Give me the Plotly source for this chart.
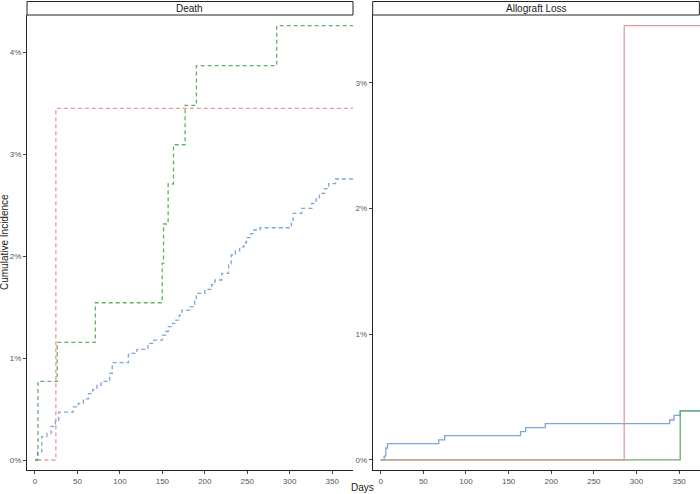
import plotly.graph_objects as go

# ---------------- data (days, cumulative incidence in %) ----------------
death_red_t = [3, 24.6, 375]
death_red_v = [0, 3.448, 3.448]

death_green_t = [0, 3.5, 26.2, 71.1, 149.8, 151.4, 156.8, 163.1, 176.8, 190.1, 284.7, 375]
death_green_v = [0, 0.77, 1.154, 1.542, 1.928, 2.314, 2.706, 3.091, 3.477, 3.866, 4.258, 4.258]

death_blue_t = [0, 3, 8, 14, 19, 24, 28, 45, 51, 57, 63, 68, 73, 78, 88, 91, 110, 120, 133,
                140, 150, 154, 157, 162, 166, 170, 173, 182, 188, 190, 200, 208, 212, 220,
                228, 231, 236, 241, 246, 249, 254, 258, 265, 302, 304, 314, 326, 331, 335,
                341, 346, 354, 375]
death_blue_v = [0, 0.08, 0.23, 0.26, 0.33, 0.39, 0.47, 0.52, 0.556, 0.60, 0.65, 0.69, 0.735,
                0.77, 0.85, 0.954, 1.046, 1.085, 1.144, 1.176, 1.225, 1.26, 1.307, 1.34, 1.372,
                1.42, 1.47, 1.503, 1.56, 1.634, 1.673, 1.72, 1.765, 1.83, 1.92, 2.01, 2.05,
                2.09, 2.13, 2.18, 2.22, 2.255, 2.277, 2.35, 2.418, 2.467, 2.516, 2.56, 2.614,
                2.66, 2.71, 2.755, 2.755]

graft_red_t = [0, 285.6, 375]
graft_red_v = [0, 3.455, 3.455]

graft_green_t = [0, 351.3, 375]
graft_green_v = [0, 0.39, 0.39]

graft_blue_t = [0, 4, 6, 8, 68, 75, 164, 170, 193, 339, 344, 351.3, 375]
graft_blue_v = [0, 0.03, 0.095, 0.13, 0.16, 0.193, 0.225, 0.257, 0.289, 0.318, 0.355, 0.39, 0.39]

x_ticks = [0, 50, 100, 150, 200, 250, 300, 350]
death_y_ticks = [0, 1, 2, 3, 4]
graft_y_ticks = [0, 1, 2, 3]
death_y_labels = ["0%", "1%", "2%", "3%", "4%"]
graft_y_labels = ["0%", "1%", "2%", "3%"]
panel_titles = ["Death", "Allograft Loss"]

RED = "rgba(228,150,150,0.95)"
GREEN = "rgba(95,170,95,0.95)"
BLUE = "rgba(120,160,220,0.95)"

W, H = 700, 494
fig = go.Figure()

def add(t, v, color, xa, ya, dash):
    fig.add_trace(go.Scatter(x=t, y=v, mode="lines", line_shape="hv",
                             line=dict(color=color, width=1.3, dash=dash),
                             xaxis=xa, yaxis=ya, showlegend=False, hoverinfo="skip"))

dash = "4px,3px"
add(death_blue_t, death_blue_v, BLUE, "x", "y", dash)
add(death_red_t, death_red_v, RED, "x", "y", dash)
add(death_green_t, death_green_v, GREEN, "x", "y", dash)

add(graft_blue_t, graft_blue_v, BLUE, "x2", "y2", "solid")
add(graft_green_t, graft_green_v, GREEN, "x2", "y2", "solid")
add(graft_red_t, graft_red_v, RED, "x2", "y2", "solid")

# panel geometry (pixels)
L1, R1 = 27, 353
L2, R2 = 372.7, 700
TOP, BOT = 15, 470

def px_x(p):
    return p / W

def px_y(p):
    return 1 - p / H

tickfont = dict(family="Liberation Sans, Arial, sans-serif", size=8, color="#555555")
common_x = dict(range=[-9.4, 374.5], tickvals=x_ticks, ticktext=[str(v) for v in x_ticks],
                showline=True, linecolor="#222", linewidth=1, ticks="outside", ticklen=3,
                tickcolor="#444", showgrid=False, zeroline=False, tickfont=tickfont,
                ticklabeloverflow="allow")
common_y = dict(showline=True, linecolor="#222", linewidth=1, ticks="outside", ticklen=3,
                tickcolor="#444", showgrid=False, zeroline=False, tickfont=tickfont,
                tickmode="array", ticklabeloverflow="allow")

fig.update_layout(
    width=W, height=H, margin=dict(l=0, r=0, t=0, b=0),
    paper_bgcolor="white", plot_bgcolor="white",
    xaxis=dict(domain=[px_x(L1), px_x(R1)], anchor="y", **common_x),
    xaxis2=dict(domain=[px_x(L2), px_x(R2)], anchor="y2", **common_x),
    yaxis=dict(domain=[px_y(BOT), px_y(TOP)], anchor="x", range=[-0.098, 4.363],
               tickvals=death_y_ticks, ticktext=death_y_labels, **common_y),
    yaxis2=dict(domain=[px_y(BOT), px_y(TOP)], anchor="x2", range=[-0.08, 3.54],
                tickvals=graft_y_ticks, ticktext=graft_y_labels, **common_y),
    font=dict(family="Liberation Sans, Arial, sans-serif"),
)

# strips
for (l, r), title in zip([(L1, R1), (L2, R2)], panel_titles):
    fig.add_shape(type="rect", xref="paper", yref="paper",
                  x0=px_x(l), x1=px_x(min(r, W - 0.6)), y0=px_y(TOP), y1=px_y(1.5),
                  line=dict(color="#222", width=1), fillcolor="white")
    fig.add_annotation(xref="paper", yref="paper", x=px_x((l + min(r, W)) / 2), y=px_y(8.5),
                       text=title, showarrow=False, xanchor="center", yanchor="middle",
                       font=dict(size=10, color="#1a1a1a"))

fig.add_annotation(xref="paper", yref="paper", x=px_x(4.5), y=px_y((TOP + BOT) / 2),
                   text="Cumulative Incidence", textangle=-90, showarrow=False,
                   xanchor="center", yanchor="middle", font=dict(size=10, color="#1a1a1a"))
fig.add_annotation(xref="paper", yref="paper", x=px_x(362), y=px_y(487),
                   text="Days", showarrow=False, xanchor="center", yanchor="middle",
                   font=dict(size=10, color="#1a1a1a"))

fig.write_html("out.html", config={"displayModeBar": False},
               post_script="document.body.style.margin='0';document.body.style.overflow='hidden';")
